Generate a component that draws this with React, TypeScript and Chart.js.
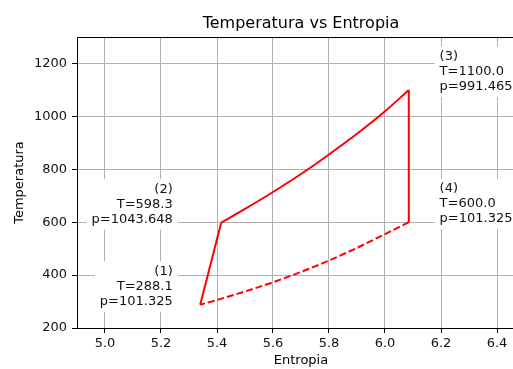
import React, { useEffect, useRef } from "react";
import { Chart, registerables } from "chart.js";

Chart.register(...registerables);

// Data
const compressionS = [5.34, 5.415];
const compressionT = [288.1, 598.3];
const heatingS = [5.415, 5.5, 5.6, 5.7, 5.8, 5.9, 6.0, 6.085];
const heatingT = [598.3, 650, 714, 782, 856, 934, 1019, 1100];
const expansionS = [6.085, 6.085];
const expansionT = [1100, 600];
const rejectionS = [6.085, 6.0, 5.9, 5.8, 5.7, 5.6, 5.5, 5.4, 5.34];
const rejectionT = [600, 555, 503, 455, 412, 373, 338, 306, 288.1];

const xTicks = [5.0, 5.2, 5.4, 5.6, 5.8, 6.0, 6.2, 6.4];
const yTicks = [200, 400, 600, 800, 1000, 1200];

const stateNames = ["(1)", "(2)", "(3)", "(4)"];
const stateTemps = ["288.1", "598.3", "1100.0", "600.0"];
const statePress = ["101.325", "1043.648", "991.465", "101.325"];
const labelS = [5.242, 5.242, 6.195, 6.195];
const labelT = [288.1, 598.3, 1100, 600];
const labelAlign = ["right", "right", "left", "left"];

const titleText = "Temperatura vs Entropia";
const xLabel = "Entropia";
const yLabel = "Temperatura";

const FONT = "'DejaVu Sans', sans-serif";
const FS = 13;

const pts = (xs: number[], ys: number[]) => xs.map((x, i) => ({ x, y: ys[i] }));

const decorPlugin = {
  id: "decor",
  beforeDatasetsDraw(chart: any) {
    const ctx = chart.ctx;
    const xs = chart.scales.x;
    const ys = chart.scales.y;
    ctx.save();
    ctx.font = `${FS}px ${FONT}`;
    for (let i = 0; i < stateNames.length; i++) {
      const lines = [stateNames[i], `T=${stateTemps[i]}`, `p=${statePress[i]}`];
      const px = xs.getPixelForValue(labelS[i]);
      const base = ys.getPixelForValue(labelT[i]);
      const w = Math.max(...lines.map((l) => ctx.measureText(l).width));
      const left = labelAlign[i] === "right" ? px - w : px;
      const top = base - 2 * 15 - 9.5 - 4;
      const bottom = base + 3 + 4;
      ctx.fillStyle = "#ffffff";
      ctx.fillRect(left - 5, top, w + 10, bottom - top);
      ctx.fillStyle = "#111";
      ctx.textAlign = labelAlign[i] as CanvasTextAlign;
      ctx.textBaseline = "alphabetic";
      lines.forEach((l, k) => {
        ctx.fillText(l, px, base - (2 - k) * 15);
      });
    }
    ctx.restore();
  },
  afterDraw(chart: any) {
    const ctx = chart.ctx;
    const a = chart.chartArea;
    ctx.save();
    // top spine
    ctx.strokeStyle = "#000";
    ctx.lineWidth = 1;
    ctx.beginPath();
    ctx.moveTo(a.left, a.top + 0.5);
    ctx.lineTo(a.right, a.top + 0.5);
    ctx.stroke();
    // title
    const cx = (a.left + a.right) / 2;
    ctx.fillStyle = "#000";
    ctx.textAlign = "center";
    ctx.textBaseline = "middle";
    ctx.font = `16px ${FONT}`;
    ctx.fillText(titleText, cx, 24);
    ctx.font = `${FS}px ${FONT}`;
    ctx.fillText(xLabel, cx, 361);
    ctx.translate(20, (a.top + a.bottom) / 2);
    ctx.rotate(-Math.PI / 2);
    ctx.fillText(yLabel, 0, 0);
    ctx.restore();
  },
};

export default function App() {
  const ref = useRef<HTMLCanvasElement>(null);
  useEffect(() => {
    if (!ref.current) return;
    const red = "#ff0000";
    const base = {
      borderColor: red,
      backgroundColor: red,
      borderWidth: 2,
      pointRadius: 0,
      fill: false,
    };
    const chart = new Chart(ref.current, {
      type: "line",
      data: {
        datasets: [
          { ...base, data: pts(compressionS, compressionT) },
          { ...base, data: pts(heatingS, heatingT), cubicInterpolationMode: "monotone" },
          { ...base, data: pts(expansionS, expansionT) },
          {
            ...base,
            data: pts(rejectionS, rejectionT),
            cubicInterpolationMode: "monotone",
            borderDash: [7, 3],
          },
        ] as any,
      },
      options: {
        responsive: false,
        animation: false,
        devicePixelRatio: 1,
        layout: { padding: { top: 37, left: 0, right: 0, bottom: 0 } },
        plugins: {
          legend: { display: false },
          tooltip: { enabled: false },
          title: { display: false },
        },
        scales: {
          x: {
            type: "linear",
            min: 4.9,
            max: 6.5,
            afterBuildTicks: (s: any) => {
              s.ticks = xTicks.map((v) => ({ value: v }));
            },
            afterFit: (s: any) => {
              s.height = 41;
            },
            grid: {
              color: "#b0b0b0",
              lineWidth: 1,
              tickColor: "#000",
              tickLength: 5,
              drawTicks: true,
            },
            border: { display: true, color: "#000", width: 1 },
            ticks: {
              color: "#111",
              font: { family: FONT, size: FS },
              padding: 3,
              maxRotation: 0,
              autoSkip: false,
              callback: (v: any) => Number(v).toFixed(1),
            },
          },
          y: {
            type: "linear",
            min: 200,
            max: 1300,
            afterBuildTicks: (s: any) => {
              s.ticks = yTicks.map((v) => ({ value: v }));
            },
            afterFit: (s: any) => {
              s.width = 77;
            },
            grid: {
              color: "#b0b0b0",
              lineWidth: 1,
              tickColor: "#000",
              tickLength: 5,
              drawTicks: true,
            },
            border: { display: true, color: "#000", width: 1 },
            ticks: {
              color: "#111",
              font: { family: FONT, size: FS },
              padding: 5,
              autoSkip: false,
              callback: (v: any) => String(v),
            },
          },
        },
      },
      plugins: [decorPlugin],
    });
    return () => chart.destroy();
  }, []);
  return (
    <div
      style={{
        position: "absolute",
        left: 0,
        top: 0,
        width: 513,
        height: 369,
        overflow: "hidden",
        background: "#fff",
      }}
    >
      <canvas ref={ref} width={525} height={369} style={{ display: "block" }} />
    </div>
  );
}
